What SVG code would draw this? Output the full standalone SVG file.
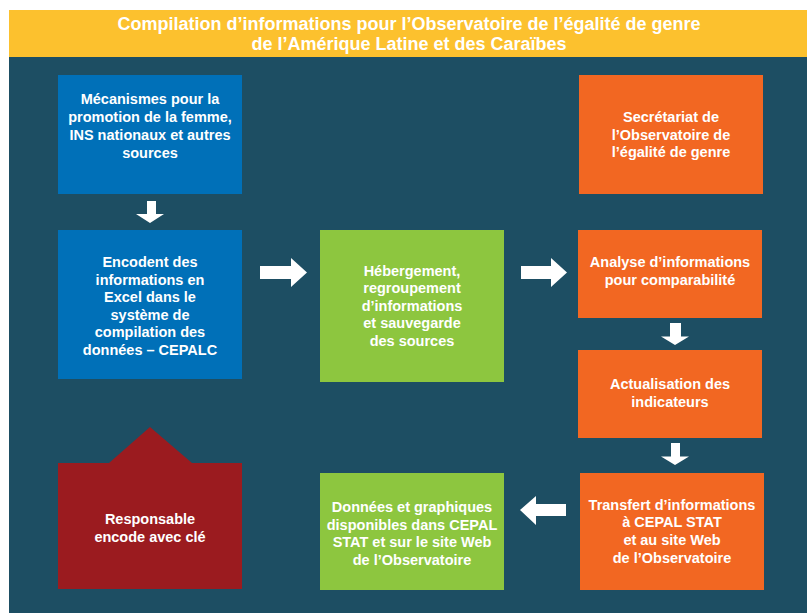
<svg xmlns="http://www.w3.org/2000/svg" width="807" height="613" viewBox="0 0 807 613">
<style>
text{font-family:"Liberation Sans",Arial,sans-serif;font-weight:bold;fill:#ffffff;text-anchor:middle}
.t{font-size:18px}
.b{font-size:14.5px}
.blue{fill:#0070B8}
.green{fill:#8DC63F}
.orange{fill:#F26722}
.red{fill:#9B1B1F}
.arrow{fill:#ffffff}
</style>
<rect x="0" y="0" width="807" height="613" fill="#ffffff"/>
<rect x="9" y="57" width="798" height="556" fill="#1D4E63"/>
<g id="title">
<rect x="9" y="10" width="798" height="47" fill="#FCC12E"/>
<text class="t" x="409" y="29.5">Compilation d’informations pour l’Observatoire de l’égalité de genre</text>
<text class="t" x="409" y="49.5">de l’Amérique Latine et des Caraïbes</text>
</g>
<g id="n-mecanismes">
<rect class="blue" x="58" y="75" width="184" height="119"/>
<text class="b" x="150" y="104">Mécanismes pour la</text>
<text class="b" x="150" y="122">promotion de la femme,</text>
<text class="b" x="150" y="140">INS nationaux et autres</text>
<text class="b" x="150" y="158">sources</text>
</g>
<g id="n-encodent">
<rect class="blue" x="58" y="230" width="184" height="149"/>
<text class="b" x="150" y="267">Encodent des</text>
<text class="b" x="150" y="284.5">informations en</text>
<text class="b" x="150" y="302">Excel dans le</text>
<text class="b" x="150" y="319.5">système de</text>
<text class="b" x="150" y="337">compilation des</text>
<text class="b" x="150" y="354.5">données – CEPALC</text>
</g>
<g id="n-responsable">
<polygon class="red" points="58,463 109,463 150,427 192,463 242,463 242,589 58,589"/>
<text class="b" x="150" y="523.5">Responsable</text>
<text class="b" x="150" y="541.5">encode avec clé</text>
</g>
<g id="n-hebergement">
<rect class="green" x="320" y="230" width="184" height="152"/>
<text class="b" x="412" y="275.5">Hébergement,</text>
<text class="b" x="412" y="293">regroupement</text>
<text class="b" x="412" y="310.5">d’informations</text>
<text class="b" x="412" y="328">et sauvegarde</text>
<text class="b" x="412" y="345.5">des sources</text>
</g>
<g id="n-secretariat">
<rect class="orange" x="579" y="75" width="184" height="119"/>
<text class="b" x="671" y="122">Secrétariat de</text>
<text class="b" x="671" y="139.5">l’Observatoire de</text>
<text class="b" x="671" y="157">l’égalité de genre</text>
</g>
<g id="n-analyse">
<rect class="orange" x="578" y="230" width="184" height="88"/>
<text class="b" x="670" y="267">Analyse d’informations</text>
<text class="b" x="670" y="285">pour comparabilité</text>
</g>
<g id="n-actualisation">
<rect class="orange" x="578" y="350" width="184" height="88"/>
<text class="b" x="670" y="389">Actualisation des</text>
<text class="b" x="670" y="407">indicateurs</text>
</g>
<g id="n-transfert">
<rect class="orange" x="580" y="473" width="184" height="117"/>
<text class="b" x="672" y="509.5">Transfert d’informations</text>
<text class="b" x="672" y="527.2">à CEPAL STAT</text>
<text class="b" x="672" y="545">et au site Web</text>
<text class="b" x="672" y="562.7">de l’Observatoire</text>
</g>
<g id="n-donnees">
<rect class="green" x="320" y="473" width="184" height="117"/>
<text class="b" x="412" y="512">Données et graphiques</text>
<text class="b" x="412" y="529.7">disponibles dans CEPAL</text>
<text class="b" x="412" y="547.4">STAT et sur le site Web</text>
<text class="b" x="412" y="565">de l’Observatoire</text>
</g>
<g id="connectors">
<polygon class="arrow" points="147,201 156,201 156,214 164,214 150,223 136,214 147,214"/>
<polygon class="arrow" points="260,266 291,266 291,258 307,272.5 291,287 291,279 260,279"/>
<polygon class="arrow" points="521,266 551,266 551,258 567,272.5 551,287 551,279 521,279"/>
<polygon class="arrow" points="670,323 681,323 681,336.5 689,336.5 675,345 661,336.5 670,336.5"/>
<polygon class="arrow" points="671,443 680,443 680,456.5 689,456.5 675,465 661,456.5 671,456.5"/>
<polygon class="arrow" points="566,504 536,504 536,496 520,510 536,525 536,516 566,516"/>
</g>
</svg>
